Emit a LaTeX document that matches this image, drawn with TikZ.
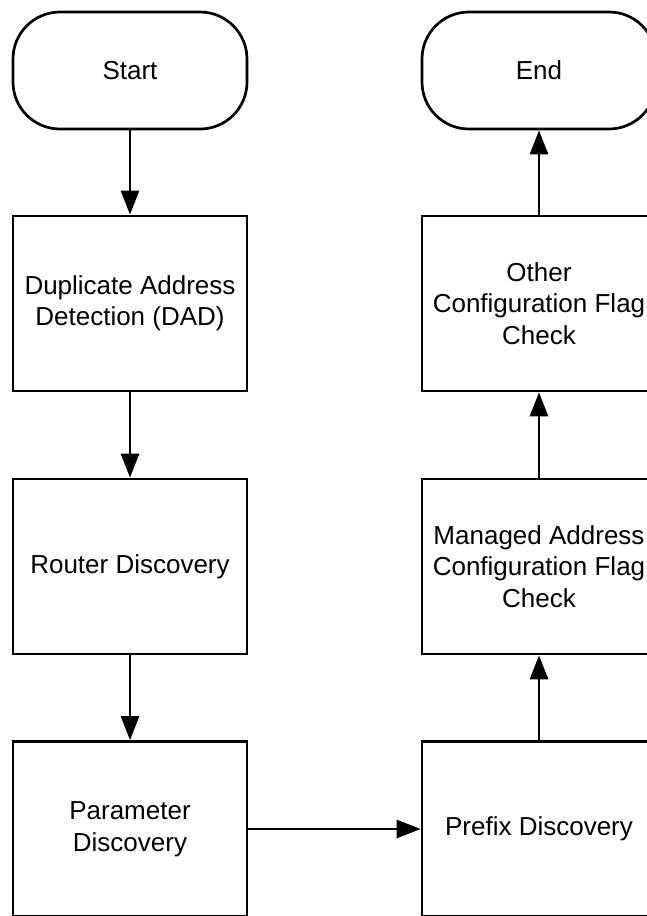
\documentclass[tikz,border=0pt]{standalone}
\usepackage{fontspec}
\setmainfont{Liberation Sans}
\usetikzlibrary{arrows.meta}
\begin{document}
\begin{tikzpicture}[x=1pt,y=-1pt,
  every node/.style={font=\fontsize{26}{31.5}\selectfont, text=black},
  terminal/.style={draw, line width=2.7pt, rounded corners=47pt,
    minimum width=234pt, minimum height=117pt, inner sep=0pt},
  stepbox/.style={draw, line width=2.7pt, minimum width=234pt,
    minimum height=175pt, inner sep=0pt, align=center},
  flow/.style={line width=2.7pt, -{Triangle[length=24pt,width=18pt]}}]
  \useasboundingbox (0,0) rectangle (647,916);
  \clip (0,0) rectangle (647,916);
  % left column: start and first three steps
  \node[terminal] (start) at (130,70.5) {Start};
  \node[stepbox] (dad) at (130,303.5) {Duplicate Address\\Detection (DAD)};
  \node[stepbox] (router) at (130,566.5) {Router Discovery};
  \node[stepbox] (param) at (130,829) {Parameter\\Discovery};
  % right column: remaining steps up to the end
  \node[stepbox] (prefix) at (539,829) {Prefix Discovery};
  \node[stepbox] (managed) at (539,566.5) {Managed Address\\Configuration Flag\\Check};
  \node[stepbox] (other) at (539,303.5) {Other\\Configuration Flag\\Check};
  \node[terminal] (end) at (539,70.5) {End};
  % connectors
  \draw[flow] (start) -- (dad);
  \draw[flow] (dad) -- (router);
  \draw[flow] (router) -- (param);
  \draw[flow] (param) -- (prefix);
  \draw[flow] (prefix) -- (managed);
  \draw[flow] (managed) -- (other);
  \draw[flow] (other) -- (end);
\end{tikzpicture}
\end{document}
